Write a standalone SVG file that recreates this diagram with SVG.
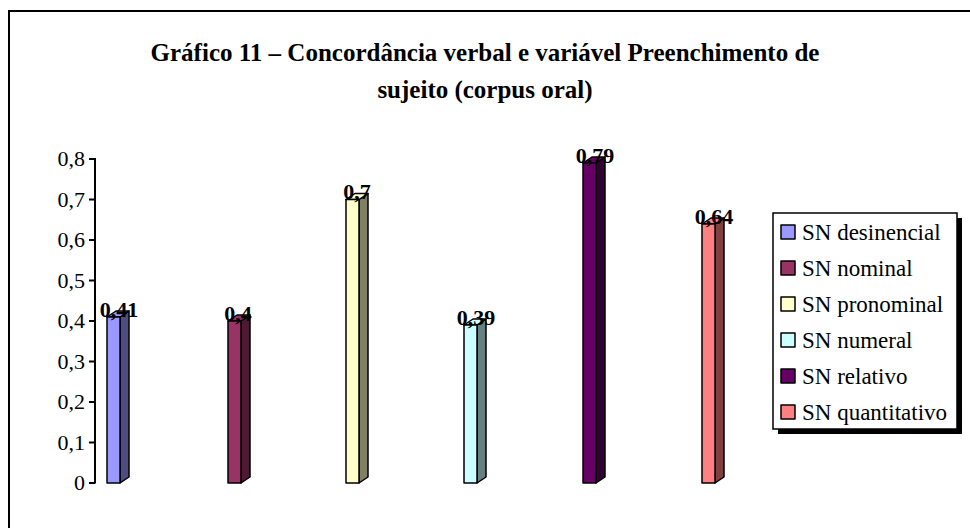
<svg xmlns="http://www.w3.org/2000/svg" width="970" height="528" viewBox="0 0 970 528">
<style>
.t{font-family:"Liberation Serif","Times New Roman",serif;fill:#000}
.title{font-size:25px;font-weight:bold;text-anchor:middle}
.ax{font-size:22px;text-anchor:end}
.val{font-size:22px;font-weight:bold;text-anchor:middle}
.lg{font-size:23px}
.e{stroke:#000;stroke-width:1.5;stroke-linejoin:round}
</style>
<rect width="970" height="528" fill="#fff"/>
<rect x="9" y="11" width="980" height="540" fill="none" stroke="#000" stroke-width="2"/>
<g id="title">
<text class="t title" x="485" y="61">Gráfico 11 – Concordância verbal e variável Preenchimento de</text>
<text class="t title" x="485" y="98">sujeito (corpus oral)</text>
</g>
<g id="axis">
<line x1="95" y1="158" x2="95" y2="483.5" stroke="#000" stroke-width="2"/>
<g stroke="#000" stroke-width="2">
<line x1="89" y1="159" x2="95" y2="159"/>
<line x1="89" y1="199.5" x2="95" y2="199.5"/>
<line x1="89" y1="240" x2="95" y2="240"/>
<line x1="89" y1="280.5" x2="95" y2="280.5"/>
<line x1="89" y1="321" x2="95" y2="321"/>
<line x1="89" y1="361.5" x2="95" y2="361.5"/>
<line x1="89" y1="402" x2="95" y2="402"/>
<line x1="89" y1="442.5" x2="95" y2="442.5"/>
<line x1="89" y1="483" x2="95" y2="483"/>
</g>
<text class="t ax" x="85" y="166">0,8</text>
<text class="t ax" x="85" y="206.5">0,7</text>
<text class="t ax" x="85" y="247">0,6</text>
<text class="t ax" x="85" y="287.5">0,5</text>
<text class="t ax" x="85" y="328">0,4</text>
<text class="t ax" x="85" y="368.5">0,3</text>
<text class="t ax" x="85" y="409">0,2</text>
<text class="t ax" x="85" y="449.5">0,1</text>
<text class="t ax" x="85" y="490">0</text>
</g>
<g id="bar-desinencial">
<polygon class="e" fill="#4D4D80" points="120,317 129,311 129,477 120,483"/>
<polygon class="e" fill="#9999FF" points="107,317 120,317 129,311 116,311"/>
<rect class="e" fill="#9999FF" x="107" y="317" width="13" height="166"/>
<text class="t val" x="119" y="317">0,41</text>
</g>
<g id="bar-nominal">
<polygon class="e" fill="#4D1A33" points="241,321 250,315 250,477 241,483"/>
<polygon class="e" fill="#993366" points="228,321 241,321 250,315 237,315"/>
<rect class="e" fill="#993366" x="228" y="321" width="13" height="162"/>
<text class="t val" x="238" y="321">0,4</text>
</g>
<g id="bar-pronominal">
<polygon class="e" fill="#808066" points="359,199.5 368,193.5 368,477 359,483"/>
<polygon class="e" fill="#FFFFCC" points="346,199.5 359,199.5 368,193.5 355,193.5"/>
<rect class="e" fill="#FFFFCC" x="346" y="199.5" width="13" height="283.5"/>
<text class="t val" x="357" y="199">0,7</text>
</g>
<g id="bar-numeral">
<polygon class="e" fill="#668080" points="477,325 486,319 486,477 477,483"/>
<polygon class="e" fill="#CCFFFF" points="464,325 477,325 486,319 473,319"/>
<rect class="e" fill="#CCFFFF" x="464" y="325" width="13" height="158"/>
<text class="t val" x="476" y="325">0,39</text>
</g>
<g id="bar-relativo">
<polygon class="e" fill="#330033" points="596,163 605,157 605,477 596,483"/>
<polygon class="e" fill="#660066" points="583,163 596,163 605,157 592,157"/>
<rect class="e" fill="#660066" x="583" y="163" width="13" height="320"/>
<text class="t val" x="595" y="163">0,79</text>
</g>
<g id="bar-quantitativo">
<polygon class="e" fill="#804040" points="715,224 724,218 724,477 715,483"/>
<polygon class="e" fill="#FF8080" points="702,224 715,224 724,218 711,218"/>
<rect class="e" fill="#FF8080" x="702" y="224" width="13" height="259"/>
<text class="t val" x="714" y="224">0,64</text>
</g>
<g id="legend">
<rect x="778" y="218" width="184" height="216" fill="#000"/>
<rect x="773" y="213" width="184" height="216" fill="#fff" stroke="#000" stroke-width="1.5"/>
<rect class="e" fill="#9999FF" x="781" y="225" width="14" height="14"/>
<text class="t lg" x="802" y="240">SN desinencial</text>
<rect class="e" fill="#993366" x="781" y="261" width="14" height="14"/>
<text class="t lg" x="802" y="276">SN nominal</text>
<rect class="e" fill="#FFFFCC" x="781" y="297" width="14" height="14"/>
<text class="t lg" x="802" y="312">SN pronominal</text>
<rect class="e" fill="#CCFFFF" x="781" y="333" width="14" height="14"/>
<text class="t lg" x="802" y="348">SN numeral</text>
<rect class="e" fill="#660066" x="781" y="369" width="14" height="14"/>
<text class="t lg" x="802" y="384">SN relativo</text>
<rect class="e" fill="#FF8080" x="781" y="405" width="14" height="14"/>
<text class="t lg" x="802" y="420">SN quantitativo</text>
</g>
</svg>
